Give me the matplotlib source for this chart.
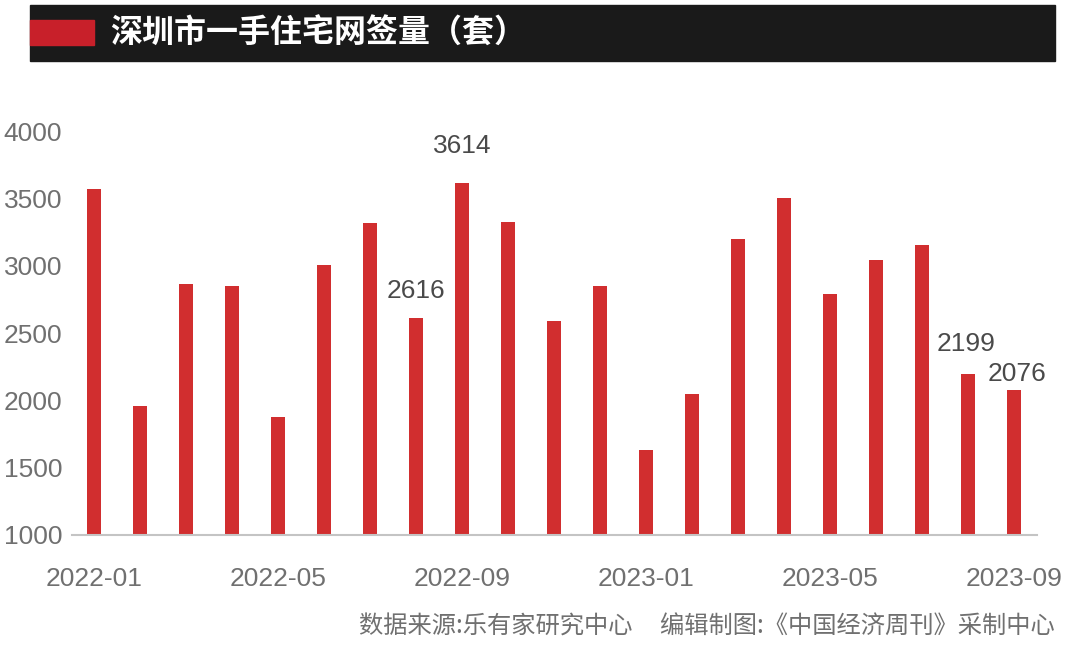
import matplotlib
matplotlib.use('Agg')
import matplotlib.pyplot as plt
from matplotlib.patches import Rectangle

plt.rcParams['font.family'] = ['Liberation Sans', 'Noto Sans CJK SC', 'DejaVu Sans']

# 深圳市一手住宅网签量（套），2022-01 ~ 2023-09
months = ['2022-01', '2022-02', '2022-03', '2022-04', '2022-05', '2022-06', '2022-07',
          '2022-08', '2022-09', '2022-10', '2022-11', '2022-12', '2023-01', '2023-02',
          '2023-03', '2023-04', '2023-05', '2023-06', '2023-07', '2023-08', '2023-09']
sales = [3573, 1961, 2863, 2852, 1877, 3008, 3316, 2616, 3614, 3326, 2590, 2852,
         1629, 2045, 3202, 3504, 2791, 3046, 3155, 2199, 2076]
labeled = {'2022-08': 2616, '2022-09': 3614, '2023-08': 2199, '2023-09': 2076}
label_offset = {'2022-08': 15, '2022-09': 25, '2023-08': 18, '2023-09': 4}
label_dx = {'2022-08': 0, '2022-09': 0, '2023-08': -2, '2023-09': 3}

bar_color = '#d12e2f'
text_gray = '#707070'

fig = plt.figure(figsize=(10.8, 6.49), dpi=100)
ax = fig.add_axes([0.0667, 0.1757, 0.8933, 0.622])

x = list(range(len(months)))
ax.bar(x, [v - 1000 for v in sales], bottom=1000, width=0.3, color=bar_color, zorder=2)

ax.set_ylim(1000, 4000)
ax.set_xlim(-0.48, len(months) - 0.5)
ax.set_yticks([1000, 1500, 2000, 2500, 3000, 3500, 4000])
ax.set_xticks(x[::4])
ax.set_xticklabels(months[::4])
ax.tick_params(axis='both', length=0, labelsize=19, labelcolor=text_gray)
ax.tick_params(axis='y', pad=7)
ax.tick_params(axis='x', pad=23)

for s in ['top', 'right', 'left']:
    ax.spines[s].set_visible(False)
ax.spines['bottom'].set_color('#c4c4c4')
ax.spines['bottom'].set_linewidth(1.5)

# 数据标注
for m, v in labeled.items():
    i = months.index(m)
    ax.annotate(str(v), xy=(i, v), xytext=(label_dx[m], label_offset[m]),
                textcoords='offset pixels', ha='center', va='bottom',
                fontsize=19, color='#4a4a4a')

# 标题栏
fig.patches.append(Rectangle((30 / 1080, 1 - 61 / 649), 1025 / 1080, 56 / 649,
                             transform=fig.transFigure, color='#1a1a1a', zorder=0))
fig.patches.append(Rectangle((30 / 1080, 1 - 45 / 649), 64 / 1080, 25 / 649,
                             transform=fig.transFigure, color='#c8202a', zorder=1))
fig.text(110 / 1080, 1 - 34 / 649, '深圳市一手住宅网签量（套）', color='white',
         fontsize=23, fontweight='bold', va='center', ha='left',
         family=['Noto Sans CJK SC', 'DejaVu Sans'])

# 来源
fig.text(1055 / 1080, 1 - 627 / 649,
         '数据来源:乐有家研究中心     编辑制图:《中国经济周刊》采制中心',
         color=text_gray, fontsize=17.5, ha='right', va='center',
         family=['Noto Sans CJK SC', 'DejaVu Sans'])

fig.savefig('out.png', dpi=100)
